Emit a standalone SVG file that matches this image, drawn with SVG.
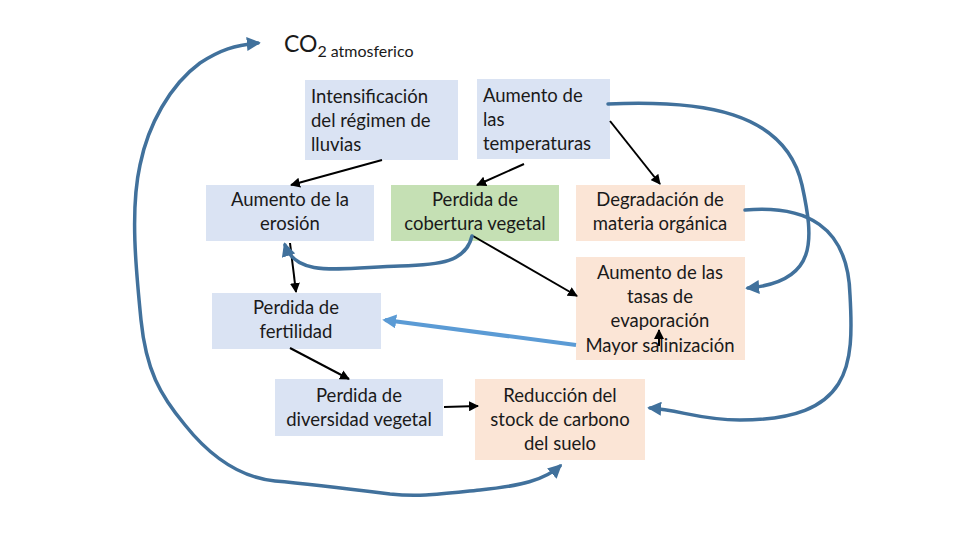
<svg xmlns="http://www.w3.org/2000/svg" width="960" height="540" viewBox="0 0 960 540">
<defs>
<style>
.t{font-family:Lato,"Open Sans","Liberation Sans",sans-serif;font-size:18.5px;fill:#1a1a1a}
.c{text-anchor:middle}
.blue{fill:#dae3f3}
.green{fill:#c5e0b4}
.peach{fill:#fbe5d6}
.k{stroke:#000;stroke-width:2;fill:none}
.s{stroke:#41719c;stroke-width:3.5;fill:none;stroke-linecap:round}
.lb{stroke:#5b9bd5;stroke-width:4;fill:none}
</style>
<marker id="ak" viewBox="0 0 10 10" refX="9" refY="5" markerWidth="5" markerHeight="5" orient="auto-start-reverse"><path d="M0,0 L10,5 L0,10 z" fill="#000"/></marker>
<marker id="as" viewBox="0 0 10 10" refX="8" refY="5" markerWidth="4" markerHeight="4" orient="auto-start-reverse"><path d="M0,0 L10,5 L0,10 z" fill="#41719c"/></marker>
<marker id="alb" viewBox="0 0 10 10" refX="8" refY="5" markerWidth="3.5" markerHeight="3.5" orient="auto-start-reverse"><path d="M0,0 L10,5 L0,10 z" fill="#5b9bd5"/></marker>
</defs>
<rect width="960" height="540" fill="#fff"/>

<g id="co2">
<text x="284" y="52" font-family="Lato,'Open Sans',sans-serif" font-size="23" fill="#1a1a1a">CO<tspan font-size="16" dy="5">2</tspan><tspan font-size="16" dx="4">atmosferico</tspan></text>
</g>

<g id="n-lluvias"><rect class="blue" x="305" y="80" width="153" height="80"/>
<text class="t" x="311" y="103">Intensificación</text><text class="t" x="311" y="127">del régimen de</text><text class="t" x="311" y="151">lluvias</text></g>

<g id="n-temp"><rect class="blue" x="477" y="79" width="133" height="80"/>
<text class="t" x="483" y="102">Aumento de</text><text class="t" x="483" y="126">las</text><text class="t" x="483" y="150">temperaturas</text></g>

<g id="n-erosion"><rect class="blue" x="206" y="185" width="168" height="56"/>
<text class="t c" x="290" y="206">Aumento de la</text><text class="t c" x="290" y="230">erosión</text></g>

<g id="n-cobertura"><rect class="green" x="391" y="185" width="168" height="56"/>
<text class="t c" x="475" y="206">Perdida de</text><text class="t c" x="475" y="230">cobertura vegetal</text></g>

<g id="n-degradacion"><rect class="peach" x="576" y="185" width="169" height="56"/>
<text class="t c" x="660" y="206">Degradación de</text><text class="t c" x="660" y="230">materia orgánica</text></g>

<g id="n-evaporacion"><rect class="peach" x="576" y="257" width="169" height="103"/>
<text class="t c" x="660" y="279">Aumento de las</text><text class="t c" x="660" y="303">tasas de</text><text class="t c" x="660" y="327">evaporación</text><text class="t c" x="660" y="352">Mayor salinización</text></g>

<g id="n-fertilidad"><rect class="blue" x="212" y="293" width="169" height="56"/>
<text class="t c" x="296" y="314">Perdida de</text><text class="t c" x="296" y="338">fertilidad</text></g>

<g id="n-diversidad"><rect class="blue" x="275" y="379" width="168" height="57"/>
<text class="t c" x="359" y="402">Perdida de</text><text class="t c" x="359" y="426">diversidad vegetal</text></g>

<g id="n-carbono"><rect class="peach" x="475" y="379" width="170" height="81"/>
<text class="t c" x="560" y="402">Reducción del</text><text class="t c" x="560" y="426">stock de carbono</text><text class="t c" x="560" y="450">del suelo</text></g>

<g id="connectors">
<line class="k" x1="382" y1="160" x2="291" y2="185" marker-end="url(#ak)"/>
<line class="k" x1="524" y1="164" x2="477" y2="185" marker-end="url(#ak)"/>
<line class="k" x1="610" y1="121" x2="660" y2="184" marker-end="url(#ak)"/>
<line class="k" x1="473" y1="236" x2="577" y2="296" marker-end="url(#ak)"/>
<line class="k" x1="290" y1="243" x2="296" y2="292" marker-end="url(#ak)"/>
<line class="k" x1="290" y1="348" x2="349" y2="379" marker-end="url(#ak)"/>
<line class="k" x1="444" y1="407" x2="478" y2="406" marker-end="url(#ak)"/>
<line class="k" x1="659" y1="346" x2="659" y2="330" stroke-width="1.5" marker-end="url(#ak)"/>
<path class="lb" d="M576,345 L385,320" marker-end="url(#alb)"/>
<path class="s" d="M472,236 C466,262 440,265 400,266 C340,268 296,278 285,245" marker-end="url(#as)"/>
<path class="s" d="M608,104 C700,100 785,110 802,185 C814,240 818,282 748,288" marker-end="url(#as)"/>
<path class="s" d="M745,210 C805,205 848,225 850,295 C854,365 852,420 740,420 C700,420 680,410 650,408" marker-end="url(#as)"/>
<path class="s" d="M560,466 C545,480 520,486 480,490 C440,494 420,497 390,494 C350,489 310,484 275,481 C235,477 205,450 185,425 C160,395 146,370 141,320 C136,270 130,210 140,165 C148,125 170,85 200,63 C220,50 235,45 258,43" marker-start="url(#as)" marker-end="url(#as)"/>
</g>
</svg>
